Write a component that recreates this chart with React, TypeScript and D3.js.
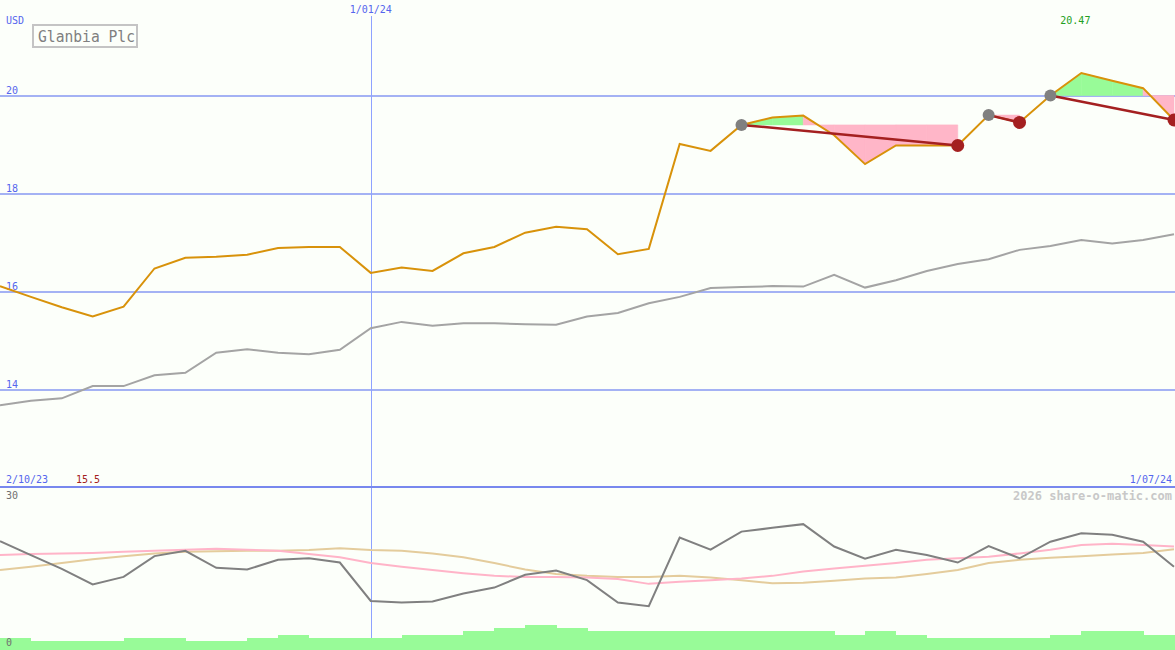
import React from "react";
import * as d3 from "d3";

const W = 1175;
const H = 650;

// weekly closes (USD)
const price = [
  16.12, 15.9, 15.69, 15.5, 15.7, 16.48, 16.7, 16.72, 16.76, 16.9, 16.92, 16.92, 16.39,
  16.5, 16.43, 16.79, 16.92, 17.21, 17.33, 17.28, 16.77, 16.88, 19.02, 18.88, 19.41,
  19.56, 19.6, 19.2, 18.61, 18.99, 18.99, 18.99, 19.61, 19.46, 20.01, 20.47, 20.31, 20.16, 19.51,
];
// benchmark (grey) in price units
const bench = [
  13.69, 13.78, 13.83, 14.08, 14.08, 14.3, 14.35, 14.76, 14.83, 14.76, 14.73, 14.82, 15.26,
  15.39, 15.31, 15.36, 15.36, 15.34, 15.33, 15.5, 15.57, 15.77, 15.9, 16.08, 16.1,
  16.12, 16.11, 16.35, 16.09, 16.24, 16.43, 16.57, 16.67, 16.86, 16.94, 17.06, 16.99, 17.06, 17.18,
];
// lower panel oscillator lines (0..30)
const oscGrey = [
  20.4, 17.8, 15.2, 12.3, 13.7, 17.6, 18.6, 15.4, 15.1, 16.9, 17.2, 16.4, 9.2,
  8.9, 9.1, 10.6, 11.7, 14.1, 14.9, 13.1, 8.9, 8.2, 21.1, 18.8, 22.2,
  22.9, 23.6, 19.4, 17.1, 18.8, 17.8, 16.4, 19.5, 17.2, 20.3, 21.9, 21.6, 20.3, 15.6,
];
const oscPink = [
  17.8, 18.0, 18.1, 18.2, 18.4, 18.6, 18.8, 19.0, 18.8, 18.6, 18.0, 17.4, 16.3,
  15.6, 15.0, 14.4, 13.9, 13.7, 13.7, 13.6, 13.3, 12.4, 12.8, 13.1, 13.4,
  13.9, 14.7, 15.3, 15.8, 16.3, 16.9, 17.2, 17.5, 18.1, 18.8, 19.7, 19.9, 19.7, 19.4,
];
const oscTan = [
  15.0, 15.6, 16.3, 17.0, 17.6, 18.1, 18.4, 18.5, 18.6, 18.6, 18.75, 19.1, 18.75,
  18.6, 18.1, 17.4, 16.3, 15.1, 14.25, 13.9, 13.7, 13.7, 13.9, 13.6, 13.1,
  12.5, 12.6, 13.0, 13.4, 13.6, 14.25, 15.0, 16.3, 16.9, 17.3, 17.6, 17.9, 18.2, 18.9,
];
const volume = [
  12, 9, 9, 9, 12, 12, 9, 9, 12, 15, 12, 12, 12,
  15, 15, 19, 22, 25, 22, 19, 19, 19, 19, 19, 19,
  19, 19, 15, 19, 15, 12, 12, 12, 12, 15, 19, 19, 15, 15,
];
const priceTicks = [14, 16, 18, 20];
const trades = [
  { start: 24, end: 31 },
  { start: 32, end: 33 },
  { start: 34, end: 38 },
];
const title = "Glanbia Plc";
const startLabel = "2/10/23";
const endLabel = "1/07/24";
const midLabel = { index: 12, text: "1/01/24" };
const minLabel = "15.5";
const maxLabel = "20.47";

const BG = "#fcfffa";
const GRID = "#a4b2f4";
const BLUE_TXT = "#5566ee";
const GREEN = "#98fb98";
const PINK = "#ffb6c8";
const ORANGE = "#d8920a";
const DARKRED = "#a42020";
const MONO = "'DejaVu Sans Mono', 'Liberation Mono', monospace";

export default function App() {
  const n = price.length;
  const x = d3.scaleLinear().domain([0, n - 1]).range([0, 1174]);
  const y = d3.scaleLinear().domain([14, 20]).range([390, 96]);
  const yl = d3.scaleLinear().domain([0, 30]).range([650, 490]);
  const yv = d3.scaleLinear().domain([0, 160]).range([650, 490]);

  const lineP = d3
    .line<number>()
    .x((_, i) => x(i))
    .y((d) => y(d));
  const lineL = d3
    .line<number>()
    .x((_, i) => x(i))
    .y((d) => yl(d));
  const poly = d3.line<[number, number]>();

  const fills: { d: string; c: string }[] = [];
  trades.forEach((t) => {
    const level = price[t.start];
    for (let i = t.start; i < t.end; i++) {
      const pts: [number, number][] = [
        [x(i), y(level)],
        [x(i), y(price[i])],
        [x(i + 1), y(price[i + 1])],
        [x(i + 1), y(level)],
      ];
      fills.push({ d: poly(pts) + "Z", c: price[i + 1] >= level ? GREEN : PINK });
    }
  });

  const maxI = price.indexOf(d3.max(price) as number);
  const vx = Math.round(x(midLabel.index)) + 0.5;

  return (
    <div style={{ position: "absolute", left: 0, top: 0 }}>
      <svg width={W} height={H} style={{ display: "block" }} fontFamily={MONO}>
        <rect x={0} y={0} width={W} height={H} fill={BG} />
        {/* grid */}
        {priceTicks.map((t) => (
          <g key={t}>
            <line x1={0} x2={W} y1={y(t)} y2={y(t)} stroke={GRID} strokeWidth={2} />
            <text x={6} y={y(t) - 2} fontSize={10} fill={BLUE_TXT}>
              {t}
            </text>
          </g>
        ))}
        <line
          x1={vx}
          x2={vx}
          y1={16}
          y2={H}
          stroke="#8ea2ff"
          strokeWidth={1}
          shapeRendering="crispEdges"
        />
        <text x={x(midLabel.index)} y={13} fontSize={10} fill={BLUE_TXT} textAnchor="middle">
          {midLabel.text}
        </text>
        <text x={6} y={24} fontSize={10} fill={BLUE_TXT}>
          USD
        </text>
        {/* fills */}
        {fills.map((f, i) => (
          <path key={i} d={f.d} fill={f.c} stroke={f.c} strokeWidth={0.6} />
        ))}
        {/* benchmark */}
        <path d={lineP(bench) || ""} fill="none" stroke="#a4a4a4" strokeWidth={2} />
        {/* price */}
        <path d={lineP(price) || ""} fill="none" stroke={ORANGE} strokeWidth={2} />
        {/* trade lines */}
        {trades.map((t, i) => (
          <line
            key={i}
            x1={x(t.start)}
            y1={y(price[t.start])}
            x2={x(t.end)}
            y2={y(price[t.end])}
            stroke={DARKRED}
            strokeWidth={2.5}
          />
        ))}
        {trades.map((t, i) => (
          <g key={"d" + i}>
            <circle cx={x(t.start)} cy={y(price[t.start])} r={6} fill="#808080" />
            <circle cx={x(t.end)} cy={y(price[t.end])} r={6.5} fill={DARKRED} />
          </g>
        ))}
        <text x={x(maxI) - 21} y={24} fontSize={10} fill="#22a022">
          {maxLabel}
        </text>
        {/* title box */}
        <rect x={33} y={25} width={104} height={22} fill="none" stroke="#c4c4c4" strokeWidth={2} />
        <text
          x={38}
          y={42}
          fontSize={15}
          fill="#808080"
          textLength={97}
          lengthAdjust="spacingAndGlyphs"
        >
          {title}
        </text>
        {/* separator */}
        <line x1={0} x2={W} y1={487} y2={487} stroke="#7888ee" strokeWidth={2} />
        <text x={6} y={483} fontSize={10} fill={BLUE_TXT}>
          {startLabel}
        </text>
        <text x={76} y={483} fontSize={10} fill={DARKRED}>
          {minLabel}
        </text>
        <text x={1172} y={483} fontSize={10} fill={BLUE_TXT} textAnchor="end">
          {endLabel}
        </text>
        <text x={6} y={499} fontSize={10} fill="#707070">
          30
        </text>
        <text x={1172} y={500} fontSize={12} fontWeight="bold" fill="#c8c8c8" textAnchor="end">
          2026 share-o-matic.com
        </text>
        {/* volume */}
        {volume.map((v, i) => (
          <rect
            key={i}
            x={x(i)}
            y={yv(v)}
            width={x(i + 1) - x(i) + 0.5}
            height={650 - yv(v)}
            fill={GREEN}
            shapeRendering="crispEdges"
          />
        ))}
        <text x={6} y={646} fontSize={10} fill="#707070">
          0
        </text>
        {/* lower lines */}
        <path d={lineL(oscTan) || ""} fill="none" stroke="#e4cc9c" strokeWidth={2} />
        <path d={lineL(oscPink) || ""} fill="none" stroke="#ffb4c8" strokeWidth={2} />
        <path d={lineL(oscGrey) || ""} fill="none" stroke="#808080" strokeWidth={2} />
      </svg>
    </div>
  );
}
